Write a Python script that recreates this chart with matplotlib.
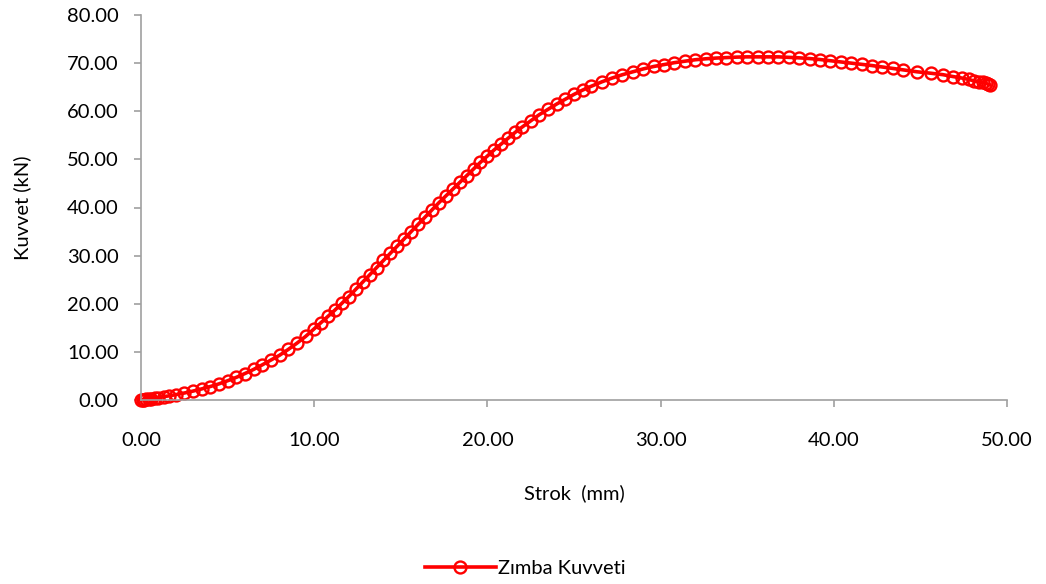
import numpy as np
import matplotlib
matplotlib.use('Agg')
import matplotlib.pyplot as plt

# Stroke (mm) vs punch force (kN)
strok = [0.0, 0.1, 0.2, 0.3, 0.45, 0.6, 0.8, 1.0, 1.3, 1.6, 2.0, 2.5, 3.0, 3.5,
         4.0, 4.5, 5.0, 5.5, 6.0, 6.5, 7.0, 7.5, 8.0, 8.5, 9.0, 9.5, 10.0, 10.4,
         10.8, 11.2, 11.6, 12.0, 12.4, 12.8, 13.2, 13.6, 14.0, 14.4, 14.8, 15.2,
         15.6, 16.0, 16.4, 16.8, 17.2, 17.6, 18.0, 18.4, 18.8, 19.2, 19.6, 20.0,
         20.4, 20.8, 21.2, 21.6, 22.0, 22.5, 23.0, 23.5, 24.0, 24.5, 25.0, 25.5,
         26.0, 26.6, 27.2, 27.8, 28.4, 29.0, 29.6, 30.2, 30.8, 31.4, 32.0, 32.6,
         33.2, 33.8, 34.4, 35.0, 35.6, 36.2, 36.8, 37.4, 38.0, 38.6, 39.2, 39.8,
         40.4, 41.0, 41.6, 42.2, 42.8, 43.4, 44.0, 44.8, 45.6, 46.3, 46.9, 47.4,
         47.8, 48.1, 48.4, 48.6, 48.8, 48.9, 49.0]
kuvvet = [0.00, 0.05, 0.10, 0.15, 0.20, 0.30, 0.40, 0.50, 0.70, 0.85, 1.10, 1.45,
          1.85, 2.30, 2.80, 3.35, 4.00, 4.70, 5.50, 6.35, 7.30, 8.30, 9.30, 10.5,
          11.8, 13.2, 14.8, 16.1, 17.4, 18.7, 20.1, 21.5, 23.0, 24.5, 26.0, 27.5,
          29.0, 30.5, 32.0, 33.5, 35.0, 36.5, 38.0, 39.5, 41.0, 42.4, 43.8, 45.2,
          46.6, 48.0, 49.4, 50.7, 52.0, 53.2, 54.4, 55.6, 56.7, 58.0, 59.3, 60.4,
          61.5, 62.5, 63.5, 64.4, 65.2, 66.1, 66.9, 67.6, 68.2, 68.8, 69.3, 69.7,
          70.1, 70.4, 70.7, 70.9, 71.05, 71.15, 71.25, 71.3, 71.3, 71.3, 71.3,
          71.2, 71.1, 70.95, 70.75, 70.5, 70.25, 70.0, 69.75, 69.5, 69.2, 68.9,
          68.6, 68.2, 67.9, 67.6, 67.2, 66.9, 66.6, 66.3, 66.1, 66.0, 65.8, 65.6,
          65.5]

x_ticks = [0, 10, 20, 30, 40, 50]
y_ticks = [0, 10, 20, 30, 40, 50, 60, 70, 80]

plt.rcParams['font.family'] = ['Lato', 'DejaVu Sans']
fig = plt.figure(figsize=(10.46, 5.84), dpi=100)
ax = fig.add_axes([141/1046, 1 - 400/584, 866/1046, 385/584])

ax.plot(strok, kuvvet, color='#ff0000', lw=2.6, marker='o', markersize=8.6,
        markerfacecolor='none', markeredgecolor='#ff0000', markeredgewidth=1.7,
        label='Zımba Kuvveti', clip_on=False)

ax.set_xlim(0, 50)
ax.set_ylim(0, 80)
ax.set_xticks(x_ticks)
ax.set_yticks(y_ticks)
ax.set_xticklabels(['%.2f' % v for v in x_ticks])
ax.set_yticklabels(['%.2f' % v for v in y_ticks])
ax.tick_params(labelsize=14.5, color='#a0a0a0', length=5, width=1.2)
ax.tick_params(axis='x', pad=18)
ax.tick_params(axis='y', pad=11)
for s in ['top', 'right']:
    ax.spines[s].set_visible(False)
for s in ['left', 'bottom']:
    ax.spines[s].set_color('#a0a0a0')
    ax.spines[s].set_linewidth(1.2)

ax.set_xlabel('Strok  (mm)', fontsize=14.5)
ax.set_ylabel('Kuvvet (kN)', fontsize=14.5)
ax.xaxis.set_label_coords(0.5, (400 - 493) / 385, transform=ax.transAxes)
ax.yaxis.set_label_coords((22 - 141) / 866, 0.5, transform=ax.transAxes)
ax.xaxis.label.set_va('center')
ax.yaxis.label.set_va('center')

fig.legend(loc='center', bbox_to_anchor=(0.502, 1 - 568/584), frameon=False,
           fontsize=14.5, handlelength=3.5, handletextpad=0.1)

fig.savefig('out.png', dpi=100)
